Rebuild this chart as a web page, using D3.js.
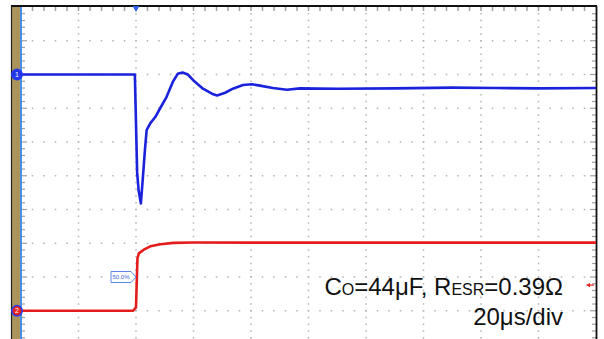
<!DOCTYPE html>
<html>
<head>
<meta charset="utf-8">
<script src="https://cdn.jsdelivr.net/npm/d3@7"></script>
<style>
  html, body { margin: 0; padding: 0; background: #fff; }
  svg { display: block; }
</style>
</head>
<body>
<svg id="scope" width="604" height="339"></svg>
<script>
// Time axis: microseconds relative to the trigger (20 µs per division, 10 divisions)
const timeDivisions = [-40, -20, 0, 20, 40, 60, 80, 100, 120, 140, 160];
// Vertical axis: divisions from screen centre
const levelDivisions = [-5, -4, -3, -2, -1, 0, 1, 2, 3, 4, 5];

// Channel 1 (blue): output voltage, [time µs, divisions]
const outputVoltage = [
  [-40, 3.00], [-20, 3.00], [-0.4, 3.00], [0.4, 0.10], [0.9, -0.43], [1.7, -0.82],
  [2.4, -0.05], [3.1, 0.76], [3.7, 1.35], [5.0, 1.56], [6.7, 1.74],
  [8.4, 2.00], [10.6, 2.33], [12.8, 2.78], [14.5, 3.02], [16.2, 3.06],
  [18.0, 3.00], [20.4, 2.79], [23.3, 2.58], [26.4, 2.43], [28.2, 2.38],
  [31.0, 2.46], [33.7, 2.58], [37.2, 2.69], [40.3, 2.71], [43.1, 2.67],
  [47.6, 2.60], [52.5, 2.55], [57.0, 2.59], [70, 2.58], [90, 2.59],
  [110, 2.61], [125, 2.60], [140, 2.59], [160, 2.60]
];

// Channel 2 (red): load step, [time µs, divisions]
const loadCurrent = [
  [-40, -4.00], [-20, -4.00], [-1.0, -4.00], [0.0, -3.90], [0.5, -2.45],
  [1.0, -2.30], [2.7, -2.19], [5.0, -2.09], [8.5, -2.03], [13.1, -1.99],
  [19.8, -1.98], [40, -1.98], [80, -1.98], [120, -1.98], [160, -1.98]
];

const captionMain = ["C", "O", "=44μF, R", "ESR", "=0.39Ω"];
const captionTime = "20μs/div";
const triggerLabel = "50.0%";

const svg = d3.select("#scope");

const x = d3.scaleLinear().domain([-40, 160]).range([21, 596]);
const y = d3.scaleLinear().domain([-5, 5]).range([344.5, 7]);

const gridColor = "#b4b4b4";
const grid = svg.append("g");

// Dotted graticule: dots every 1/5 division along each interior line
const xDiv = timeDivisions.slice(1, -1);
const yDiv = levelDivisions.slice(1, -1);
const minorT = d3.range(-40, 160.01, 4);
const minorV = d3.range(-5, 5.01, 0.2);

xDiv.forEach(t => {
  grid.selectAll(null).data(minorV).join("rect")
    .attr("x", x(t) - 0.75).attr("y", v => y(v) - 0.75)
    .attr("width", 1.5).attr("height", 1.5).attr("fill", gridColor);
});
yDiv.forEach(v => {
  grid.selectAll(null).data(minorT).join("rect")
    .attr("x", t => x(t) - 0.75).attr("y", y(v) - 0.75)
    .attr("width", 1.5).attr("height", 1.5).attr("fill", gridColor);
});

// Edge ticks: top border, left axis and right border
const tickColor = "#a0a0a0";
const isMajor = v => Math.abs(v - Math.round(v)) < 1e-6;
grid.selectAll(null).data(minorT.slice(1, -1)).join("line")
  .attr("x1", t => x(t)).attr("x2", t => x(t))
  .attr("y1", y(5)).attr("y2", y(5) + 4)
  .attr("stroke", tickColor).attr("stroke-width", 1.5);
grid.selectAll(null).data(minorV.slice(0, -1)).join("line")
  .attr("x1", x(-40)).attr("x2", v => x(-40) + (isMajor(v) ? 6 : 4))
  .attr("y1", v => y(v)).attr("y2", v => y(v))
  .attr("stroke", tickColor).attr("stroke-width", 1.2);
grid.selectAll(null).data(minorV.slice(0, -1)).join("line")
  .attr("x1", x(160)).attr("x2", v => x(160) - (isMajor(v) ? 6 : 4))
  .attr("y1", v => y(v)).attr("y2", v => y(v))
  .attr("stroke", tickColor).attr("stroke-width", 1.2);

// Screen frame: tan strip, blue axis line, black border
svg.append("rect").attr("x", 12).attr("y", 6).attr("width", 8).attr("height", 340).attr("fill", "#ab9459");
svg.append("line").attr("x1", x(-40)).attr("x2", x(-40)).attr("y1", 7).attr("y2", 339)
  .attr("stroke", "#4b8fe6").attr("stroke-width", 2);
svg.append("line").attr("x1", 11).attr("x2", 597).attr("y1", 6).attr("y2", 6)
  .attr("stroke", "#111").attr("stroke-width", 2);
svg.append("line").attr("x1", 11.5).attr("x2", 11.5).attr("y1", 6).attr("y2", 339)
  .attr("stroke", "#222").attr("stroke-width", 1.2);
svg.append("line").attr("x1", 596.5).attr("x2", 596.5).attr("y1", 6).attr("y2", 339)
  .attr("stroke", "#111").attr("stroke-width", 1.8);

// Traces
const line = d3.line().x(d => x(d[0])).y(d => y(d[1]));
svg.append("path").datum(outputVoltage).attr("d", line)
  .attr("fill", "none").attr("stroke", "#1b22dc").attr("stroke-width", 2.6)
  .attr("stroke-linejoin", "round");
svg.append("path").datum(loadCurrent).attr("d", line)
  .attr("fill", "none").attr("stroke", "#e41c1c").attr("stroke-width", 2.6)
  .attr("stroke-linejoin", "round");

// Trigger position marker
const tx = x(0);
svg.append("path").attr("d", `M${tx - 3.5},6 L${tx + 3.5},6 L${tx},12 Z`).attr("fill", "#2f5fe8");

// Trigger level tag
const ty = y(-3);
const tag = svg.append("g");
tag.append("path")
  .attr("d", `M${tx - 25},${ty - 5.5} L${tx - 5},${ty - 5.5} L${tx},${ty} L${tx - 5},${ty + 5.5} L${tx - 25},${ty + 5.5} Z`)
  .attr("fill", "#fff").attr("stroke", "#5b86e8").attr("stroke-width", 1);
tag.append("text").attr("x", tx - 15).attr("y", ty + 2.2).attr("text-anchor", "middle")
  .attr("font-family", "Liberation Sans, Arial, sans-serif").attr("font-size", 6)
  .attr("fill", "#3a63d8").text(triggerLabel);

// Channel ground markers
function channelMarker(v, fill, label) {
  const g = svg.append("g");
  g.append("circle").attr("cx", 17).attr("cy", y(v)).attr("r", 5.2)
    .attr("fill", fill).attr("stroke", "#2a3cf0").attr("stroke-width", 1.5);
  g.append("text").attr("x", 17).attr("y", y(v) + 2.4).attr("text-anchor", "middle")
    .attr("font-family", "Liberation Sans, Arial, sans-serif").attr("font-size", 7)
    .attr("fill", "#fff").text(label);
}
channelMarker(outputVoltage[0][1], "#2236e8", "1");
channelMarker(loadCurrent[0][1], "#e42222", "2");

// Channel 2 trigger level arrow at the right edge
const ay = y(-3.24);
svg.append("path").attr("d", `M586,${ay} L590,${ay - 2.2} L590,${ay + 2.2} Z`).attr("fill", "#e41c1c");
svg.append("line").attr("x1", 589).attr("x2", 594).attr("y1", ay).attr("y2", ay)
  .attr("stroke", "#e41c1c").attr("stroke-width", 1.2);

// Caption
const font = "Liberation Sans, Arial, sans-serif";
const cap = svg.append("text").attr("x", 563).attr("y", 295).attr("text-anchor", "end")
  .attr("font-family", font).attr("font-size", 24).attr("fill", "#111");
captionMain.forEach((s, i) => {
  cap.append("tspan").attr("font-size", i % 2 === 1 ? 16 : 24).text(s);
});
svg.append("text").attr("x", 563).attr("y", 325).attr("text-anchor", "end")
  .attr("font-family", font).attr("font-size", 24).attr("fill", "#111").text(captionTime);
</script>
</body>
</html>
